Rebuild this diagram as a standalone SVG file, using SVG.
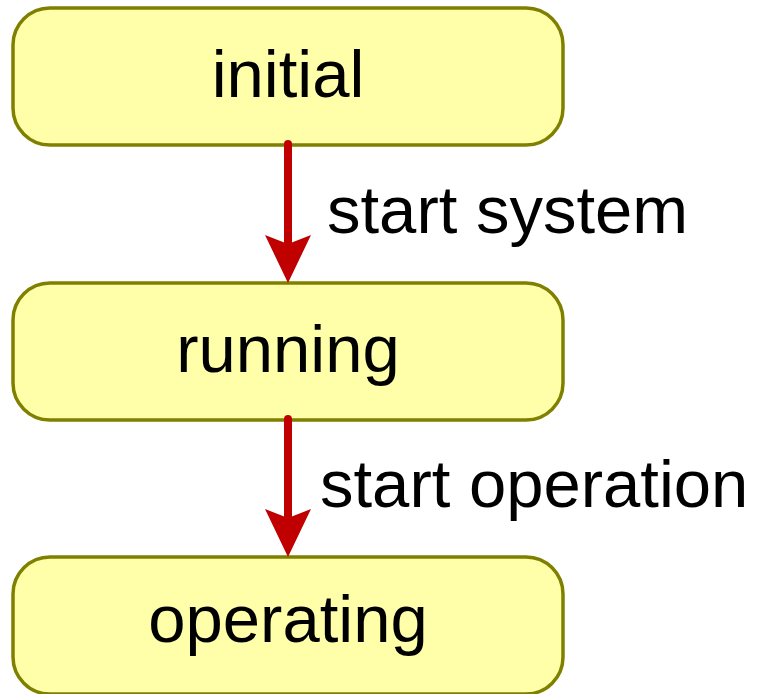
<svg xmlns="http://www.w3.org/2000/svg" width="758" height="694" viewBox="0 0 758 694">
  <style>
    .state { fill: #ffffaa; stroke: #808000; stroke-width: 3.5; }
    .label { font-family: "Liberation Sans", Arial, sans-serif; font-size: 67px; fill: #000000; }
    .name { text-anchor: middle; }
    .edge { stroke: #c00000; stroke-width: 8; stroke-linecap: round; fill: none; }
    .head { fill: #c00000; }
  </style>
  <rect width="758" height="694" fill="#ffffff"/>

  <g id="initial">
    <rect class="state" x="13" y="8" width="550" height="137" rx="37" ry="37"/>
    <text class="label name" x="288" y="97">initial</text>
  </g>
  <g id="running">
    <rect class="state" x="13" y="283" width="550" height="137" rx="37" ry="37"/>
    <text class="label name" x="288" y="372">running</text>
  </g>
  <g id="operating">
    <rect class="state" x="13" y="557" width="550" height="137" rx="37" ry="37"/>
    <text class="label name" x="288" y="642">operating</text>
  </g>

  <!-- transitions drawn over the state borders -->
  <g id="connectors">
    <g id="initial-to-running">
      <line class="edge" x1="288" y1="144" x2="288" y2="250"/>
      <path class="head" d="M265,235 L288,244 L311,235 L288,283 Z"/>
      <text class="label" x="327" y="233">start system</text>
    </g>
    <g id="running-to-operating">
      <line class="edge" x1="288" y1="419" x2="288" y2="524"/>
      <path class="head" d="M265,509 L288,518 L311,509 L288,557 Z"/>
      <text class="label" x="320" y="507">start operation</text>
    </g>
  </g>
</svg>
